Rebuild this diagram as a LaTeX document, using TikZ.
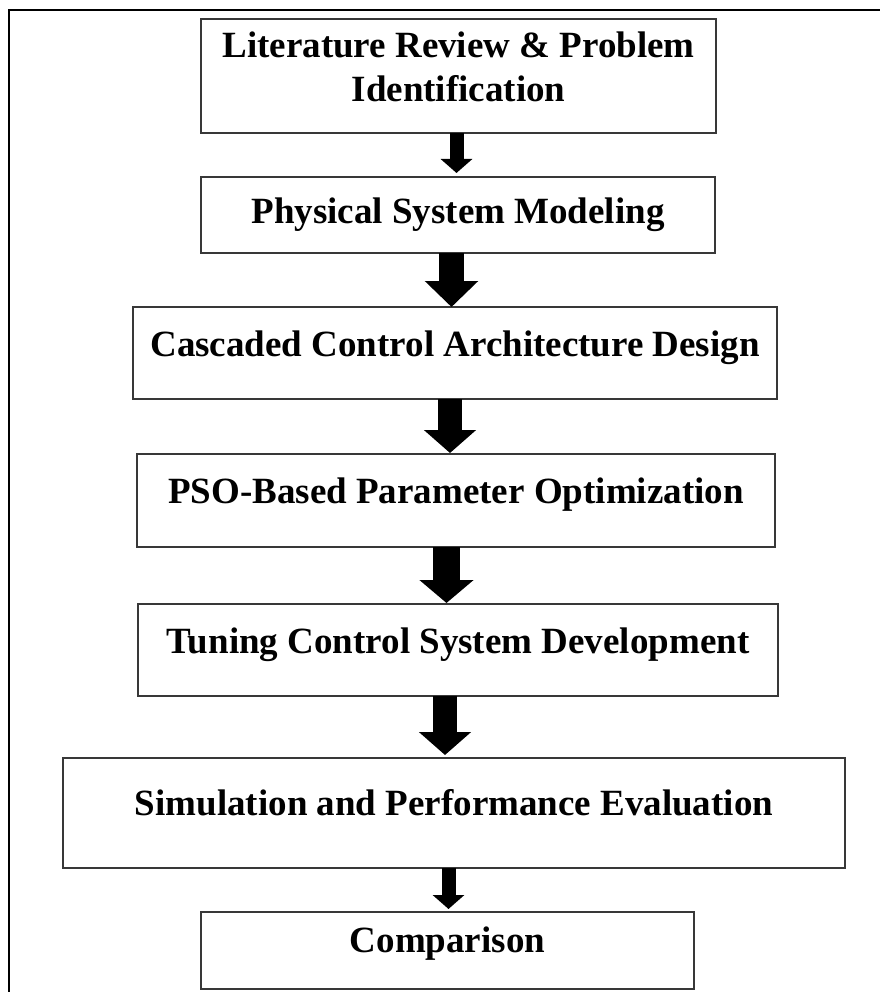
\documentclass[tikz,border=0pt]{standalone}
\usepackage{fontspec}
\setmainfont{Liberation Serif}
\usetikzlibrary{arrows.meta}
\begin{document}
\begin{tikzpicture}[x=1pt,y=-1pt,
  stepbox/.style={draw=black!78,line width=1.1pt,inner sep=0pt,outer sep=0pt,fill=white},
  txt/.style={inner sep=0pt,outer sep=0pt,anchor=base,font=\bfseries\fontsize{37}{44}\selectfont},
  bigarrow/.style={draw=black,line width=25pt,-{Triangle[width=52pt,length=24pt]}},
  smallarrow/.style={draw=black,line width=14pt,-{Triangle[width=31pt,length=14pt]}}]
\useasboundingbox (0,0) rectangle (879,992);
\draw[line width=2pt,line cap=rect] (9,992) -- (9,10) -- (879,10);
% boxes
\node[stepbox,minimum width=515pt,minimum height=114pt] (b1) at (458.5,76) {};
\node[stepbox,minimum width=514pt,minimum height=76pt] (b2) at (458,215) {};
\node[stepbox,minimum width=644pt,minimum height=92pt] (b3) at (455,353) {};
\node[stepbox,minimum width=638pt,minimum height=93pt] (b4) at (456,500.5) {};
\node[stepbox,minimum width=640pt,minimum height=92pt] (b5) at (458,650) {};
\node[stepbox,minimum width=782pt,minimum height=110pt] (b6) at (454,813) {};
\node[stepbox,minimum width=493pt,minimum height=77pt] (b7) at (447.5,950.5) {};
% texts
\node[txt] (t1) at (458.5,102) {\begin{tabular}[b]{@{}c@{}}Literature Review \& Problem\\Identification\end{tabular}};
\node[txt] (t2) at (458,223) {Physical System Modeling};
\node[txt] (t3) at (455,356) {Cascaded Control Architecture Design};
\node[txt] (t4) at (456,503) {PSO-Based Parameter Optimization};
\node[txt] (t5) at (458,653) {Tuning Control System Development};
\node[txt] (t6) at (454,815) {Simulation and Performance Evaluation};
\node[txt] (t7) at (447.5,952) {Comparison};
% arrows
\draw[smallarrow] ([xshift=-2pt]b1.south) -- ([xshift=-1.5pt,yshift=4pt]b2.north);
\draw[bigarrow,-{Triangle[width=52pt,length=26pt]}] ([xshift=-6.5pt]b2.south) -- ([xshift=-3.5pt]b3.north);
\draw[bigarrow,line width=24pt,-{Triangle[width=51pt,length=23pt]}] ([xshift=-5pt]b3.south) -- ([xshift=-6pt,yshift=1pt]b4.north);
\draw[bigarrow,line width=27pt,-{Triangle[width=53pt,length=23pt]}] ([xshift=-9.5pt]b4.south) -- ([xshift=-11.5pt,yshift=1pt]b5.north);
\draw[bigarrow,line width=24pt,-{Triangle[width=51pt,length=23pt]}] ([xshift=-13pt]b5.south) -- ([xshift=-9pt,yshift=3pt]b6.north);
\draw[smallarrow] ([xshift=-5.5pt]b6.south) -- ([xshift=1pt,yshift=3pt]b7.north);
\end{tikzpicture}
\end{document}
